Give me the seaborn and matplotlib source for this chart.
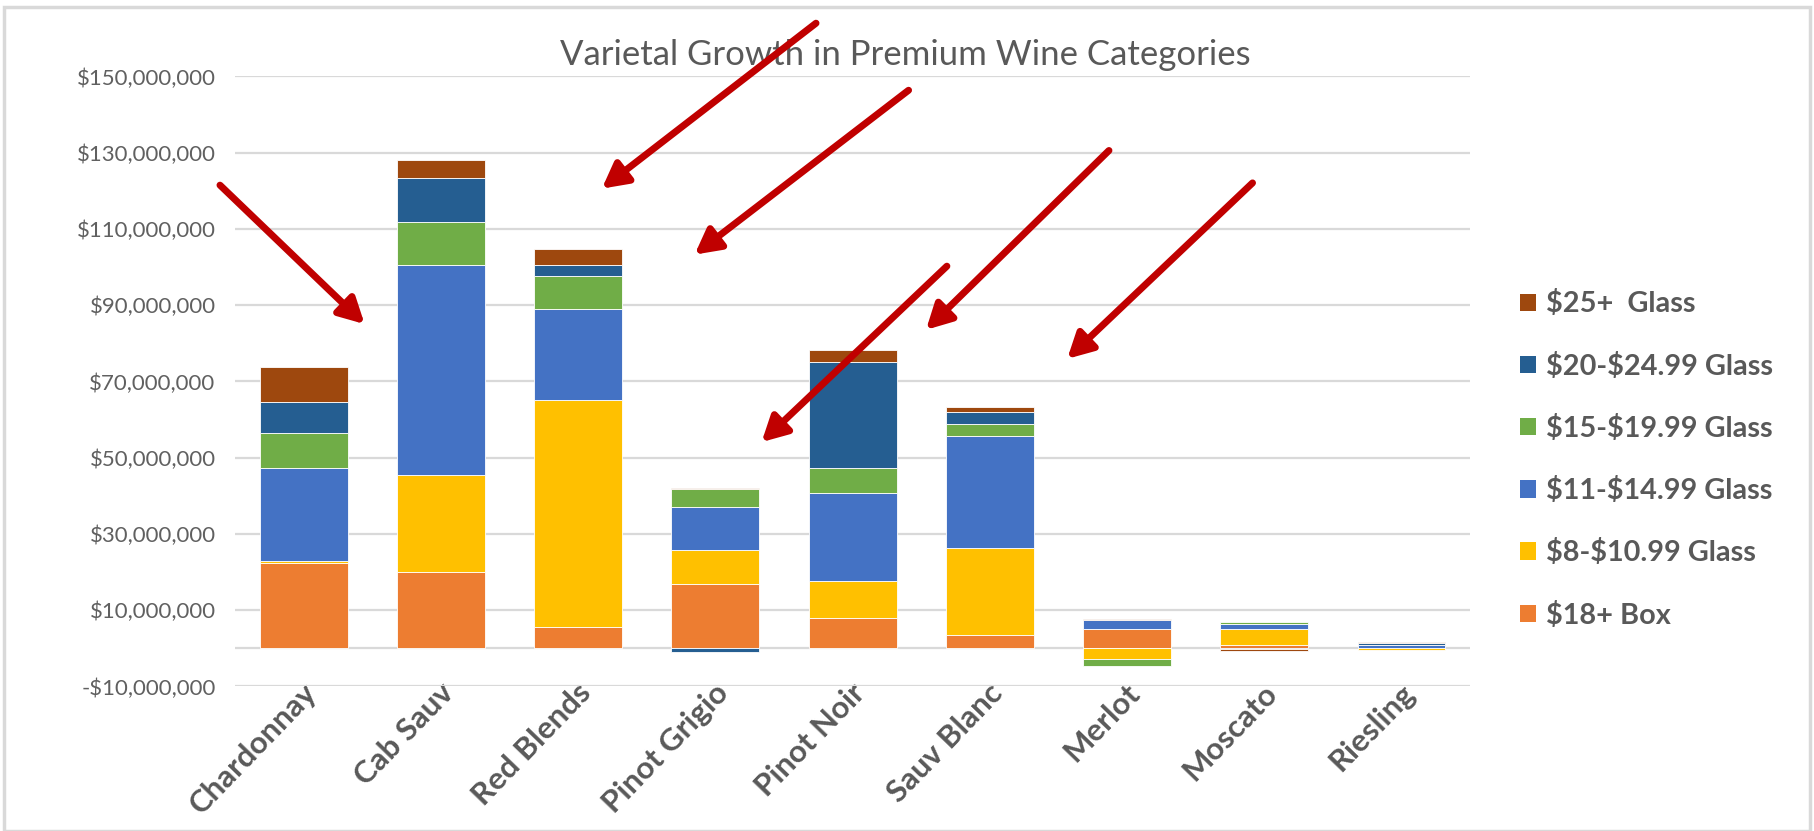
import numpy as np
import pandas as pd
import matplotlib
matplotlib.use("Agg")
import matplotlib.pyplot as plt
import matplotlib.transforms as mtransforms
import seaborn as sns
from matplotlib.patches import Patch, Rectangle, FancyArrowPatch
from matplotlib.ticker import FuncFormatter

# --- data (US$ millions) ---
varietals = ["Chardonnay", "Cab Sauv", "Red Blends", "Pinot Grigio", "Pinot Noir",
             "Sauv Blanc", "Merlot", "Moscato", "Riesling"]
series = ["\\$18+ Box", "\\$8-\\$10.99 Glass", "\\$11-\\$14.99 Glass",
          "\\$15-\\$19.99 Glass", "\\$20-\\$24.99 Glass", "\\$25+  Glass"]

box_18 = [22.5, 20.0, 5.5, 16.8, 7.9, 3.6, 5.1, 0.8, 0.2]
glass_8_11 = [0.5, 25.5, 59.5, 9.0, 9.7, 22.8, -2.8, 4.2, -0.4]
glass_11_15 = [24.4, 55.0, 24.0, 11.3, 23.1, 29.2, 2.2, 1.5, 0.6]
glass_15_20 = [9.1, 11.2, 8.7, 4.6, 6.7, 3.3, -1.8, 0.3, 0.1]
glass_20_25 = [8.2, 11.6, 2.8, -1.0, 27.6, 3.0, 0.0, -0.3, 0.4]
glass_25 = [9.1, 4.7, 4.2, 0.4, 3.3, 1.5, 0.5, -0.4, 0.3]

colors = ["#ED7D31", "#FFC000", "#4472C4", "#70AD47", "#255E91", "#9E480E"]

values = [box_18, glass_8_11, glass_11_15, glass_15_20, glass_20_25, glass_25]
df = pd.DataFrame({s: np.array(v) * 1e6 for s, v in zip(series, values)})
df["Varietal"] = varietals

sns.set_theme(style="white")
plt.rcParams["font.family"] = ["Lato", "DejaVu Sans"]

fig = plt.figure(figsize=(18.15, 8.31), dpi=100)
ax = fig.add_axes([0.1295, 0.174, 0.6805, 0.734])

# Excel-style stacking: positives upward, negatives downward
pos_base = np.zeros(len(varietals))
neg_base = np.zeros(len(varietals))
for s, c in zip(series, colors):
    v = df[s].to_numpy()
    bottom = np.where(v >= 0, pos_base, neg_base)
    sns.barplot(data=df, x="Varietal", y=s, order=varietals, color=c,
                bottom=bottom, width=0.64, errorbar=None, ax=ax,
                edgecolor="white", linewidth=0.6, saturation=1)
    pos_base = pos_base + np.where(v >= 0, v, 0)
    neg_base = neg_base + np.where(v < 0, v, 0)

ax.set_ylim(-10e6, 150e6)
ax.set_xlim(-0.5, len(varietals) - 0.5)
ax.set_yticks(np.arange(-10e6, 151e6, 20e6))
ax.yaxis.set_major_formatter(FuncFormatter(
    lambda v, p: ("-$" if v < 0 else "$") + f"{abs(v):,.0f}"))
ax.grid(axis="y", color="#D9D9D9", linewidth=1.6)
ax.axhline(0, color="#D9D9D9", linewidth=1.6, zorder=0.5)
ax.set_axisbelow(True)
for sp in ax.spines.values():
    sp.set_visible(False)
ax.set_xlabel("")
ax.set_ylabel("")
ax.tick_params(axis="y", length=0, pad=14, labelsize=16, labelcolor="#606060")
ax.tick_params(axis="x", length=0, pad=0)
shift = mtransforms.ScaledTranslation(-2 / 100, 8 / 100, fig.dpi_scale_trans)
for lab in ax.get_xticklabels():
    lab.set_rotation(46)
    lab.set_ha("right")
    lab.set_rotation_mode("anchor")
    lab.set_fontsize(22.5)
    lab.set_fontweight("bold")
    lab.set_color("#595959")
    lab.set_transform(lab.get_transform() + shift)

fig.text(0.499, 0.934, "Varietal Growth in Premium Wine Categories",
         ha="center", va="center", fontsize=25, color="#595959")

handles = [Patch(facecolor=c, edgecolor="none") for c in colors][::-1]
fig.legend(handles, series[::-1], loc="center left",
           bbox_to_anchor=(0.823, 0.447), frameon=False,
           prop={"size": 20.8, "weight": "bold"},
           labelcolor="#595959", handlelength=0.55, handleheight=0.55,
           handletextpad=0.35, labelspacing=1.22)

# red callout arrows (decorative, figure fraction)
arrows = [((0.1212, 0.7772), (0.2009, 0.6100)),
          ((0.4496, 0.9721), (0.3316, 0.7730)),
          ((0.5006, 0.8914), (0.3827, 0.6936)),
          ((0.6110, 0.8189), (0.5102, 0.6031)),
          ((0.6901, 0.7799), (0.5880, 0.5682)),
          ((0.5217, 0.6797), (0.4196, 0.4680))]
for tail, head in arrows:
    fig.add_artist(FancyArrowPatch(
        tail, head, transform=fig.transFigure, color="#C00000",
        arrowstyle="-|>,head_length=15,head_width=8", linewidth=5,
        shrinkA=0, shrinkB=0, zorder=5))

fig.add_artist(Rectangle((0.002, 0.0), 0.995, 0.992, transform=fig.transFigure,
                         fill=False, edgecolor="#D9D9D9", linewidth=2.5))

fig.savefig("out.png", dpi=100)
